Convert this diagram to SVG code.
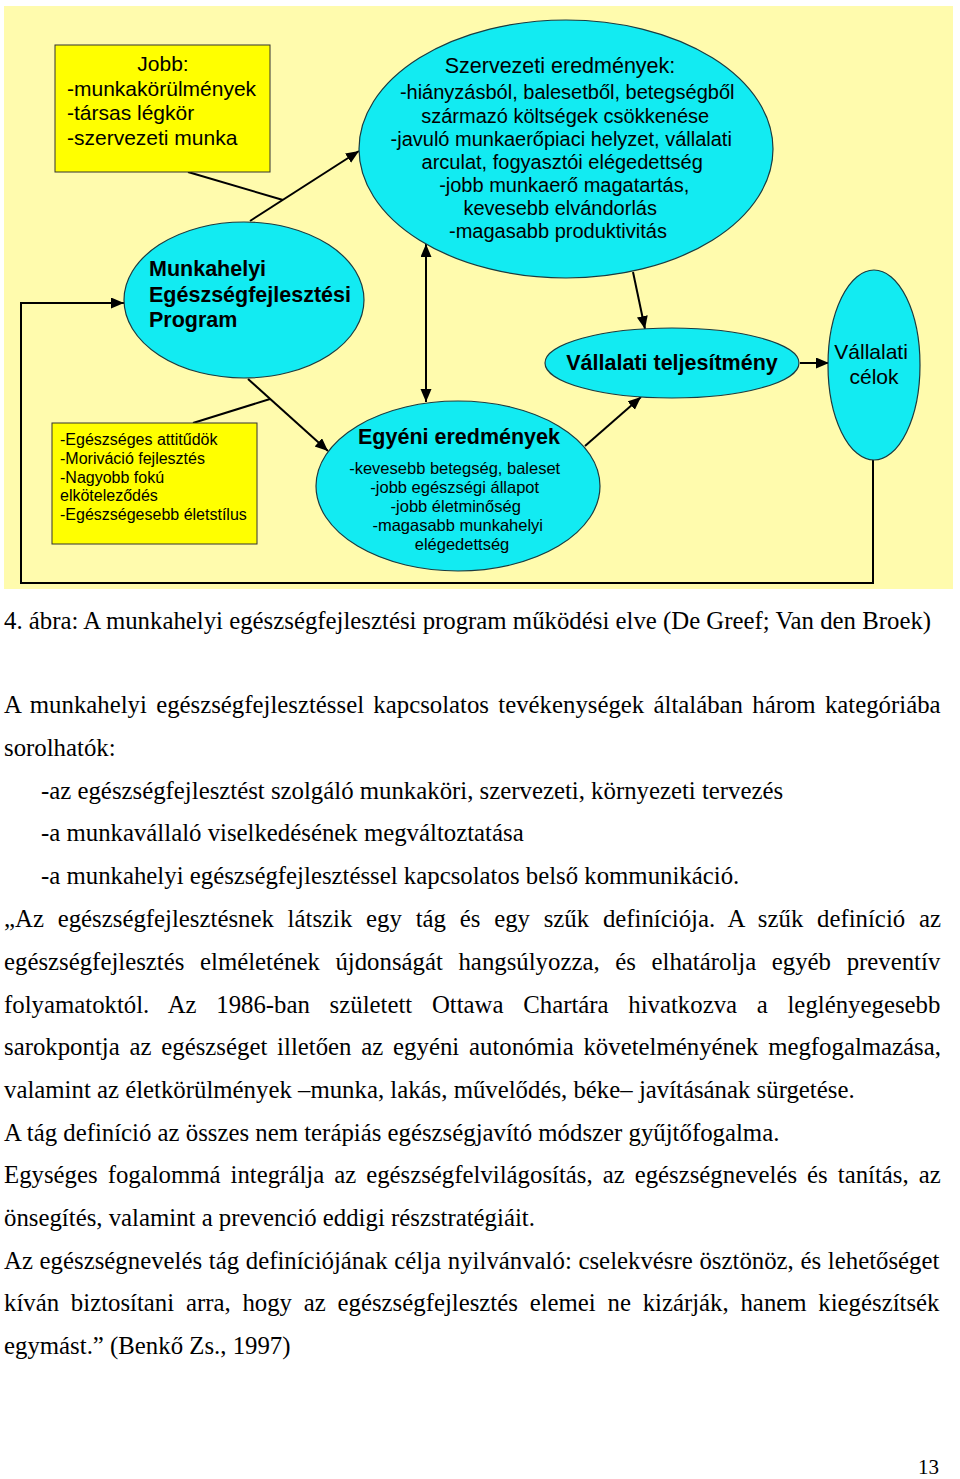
<svg xmlns="http://www.w3.org/2000/svg" width="960" height="1479" viewBox="0 0 960 1479">
<defs>
<style>
.bg{fill:#fffbad}
.ell{fill:#12ebf2;stroke:#1b3b40;stroke-width:1.2}
.box{fill:#ffff00;stroke:#333;stroke-width:1}
.ln{fill:none;stroke:#000;stroke-width:2}
.s{font-family:"Liberation Sans",Arial,sans-serif;fill:#000}
.b{font-family:"Liberation Sans",Arial,sans-serif;font-weight:bold;fill:#000}
.t{font-family:"Liberation Serif","Times New Roman",serif;font-size:24.8px;fill:#000}
.c{text-anchor:middle}
</style>
<marker id="ah" markerUnits="userSpaceOnUse" markerWidth="14" markerHeight="12" refX="13" refY="5.5" orient="auto-start-reverse" viewBox="0 0 14 12">
<path d="M0,0 L13,5.5 L0,11 z" fill="#000"/>
</marker>
</defs>
<rect class="bg" x="4" y="6" width="949" height="583"/>

<g id="connectors">
<line class="ln" x1="188" y1="172" x2="283" y2="200"/>
<line class="ln" x1="250" y1="221" x2="359" y2="151" marker-end="url(#ah)"/>
<line class="ln" x1="193" y1="423" x2="270" y2="399"/>
<line class="ln" x1="248" y1="379" x2="328" y2="451" marker-end="url(#ah)"/>
<line class="ln" x1="426" y1="244" x2="426" y2="402" marker-start="url(#ah)" marker-end="url(#ah)"/>
<line class="ln" x1="633" y1="272" x2="645" y2="329" marker-end="url(#ah)"/>
<line class="ln" x1="585" y1="446" x2="641" y2="397" marker-end="url(#ah)"/>
<line class="ln" x1="800" y1="363" x2="829" y2="363" marker-end="url(#ah)"/>
<polyline class="ln" points="873,460 873,583 21,583 21,303 124,303" marker-end="url(#ah)"/>
</g>

<g id="jobb">
<rect class="box" x="55" y="45" width="215" height="127"/>
<text class="s c" x="163" y="71" font-size="21">Jobb:</text>
<text class="s" x="67" y="96" font-size="21">-munkakörülmények</text>
<text class="s" x="67" y="120" font-size="21">-társas légkör</text>
<text class="s" x="67" y="145" font-size="21">-szervezeti munka</text>
</g>

<g id="szervezeti">
<ellipse class="ell" cx="566" cy="149" rx="207" ry="129"/>
<text class="s c" x="560" y="73" font-size="21.5">Szervezeti eredmények:</text>
<text class="s c" font-size="20">
<tspan x="570" y="99">-hiányzásból, balesetből, betegségből</tspan>
<tspan x="568" y="123">származó költségek csökkenése</tspan>
<tspan x="564" y="146">-javuló munkaerőpiaci helyzet, vállalati</tspan>
<tspan x="565" y="169">arculat, fogyasztói elégedettség</tspan>
<tspan x="567" y="192">-jobb munkaerő magatartás,</tspan>
<tspan x="563" y="215">kevesebb elvándorlás</tspan>
<tspan x="558" y="238">-magasabb produktivitás</tspan>
</text>
</g>

<g id="munkahelyi">
<ellipse class="ell" cx="244" cy="300" rx="120" ry="78"/>
<text class="b" font-size="21.5">
<tspan x="149" y="276">Munkahelyi</tspan>
<tspan x="149" y="302">Egészségfejlesztési</tspan>
<tspan x="149" y="327">Program</tspan>
</text>
</g>

<g id="attitudok">
<rect class="box" x="52" y="423" width="205" height="121"/>
<text class="s" font-size="16">
<tspan x="60" y="445">-Egészséges attitűdök</tspan>
<tspan x="60" y="464">-Moriváció fejlesztés</tspan>
<tspan x="60" y="483">-Nagyobb fokú</tspan>
<tspan x="60" y="501">elköteleződés</tspan>
<tspan x="60" y="520">-Egészségesebb életstílus</tspan>
</text>
</g>

<g id="egyeni">
<ellipse class="ell" cx="458" cy="486" rx="142" ry="85"/>
<text class="b c" x="459" y="444" font-size="21.5">Egyéni eredmények</text>
<text class="s c" font-size="16.5" fill="#1a1a1a">
<tspan x="457" y="474">-kevesebb betegség, baleset</tspan>
<tspan x="457" y="493">-jobb egészségi állapot</tspan>
<tspan x="458" y="512">-jobb életminőség</tspan>
<tspan x="460" y="531">-magasabb munkahelyi</tspan>
<tspan x="462" y="550">elégedettség</tspan>
</text>
</g>

<g id="teljesitmeny">
<ellipse class="ell" cx="672" cy="363" rx="127" ry="35"/>
<text class="b c" x="672" y="370" font-size="21.5">Vállalati teljesítmény</text>
</g>

<g id="celok">
<ellipse class="ell" cx="874" cy="365" rx="46" ry="95"/>
<text class="s c" font-size="21">
<tspan x="874" y="359">Vállalati</tspan>
<tspan x="874" y="384">célok</tspan>
</text>
</g>

<g id="text">
<text class="t" x="4" y="629">4. ábra: A munkahelyi egészségfejlesztési program működési elve (De Greef; Van den Broek)</text>
<text class="t" x="4" y="713" word-spacing="3.07">A munkahelyi egészségfejlesztéssel kapcsolatos tevékenységek általában három kategóriába</text>
<text class="t" x="4" y="756">sorolhatók:</text>
<text class="t" x="41" y="799">-az egészségfejlesztést szolgáló munkaköri, szervezeti, környezeti tervezés</text>
<text class="t" x="41" y="841">-a munkavállaló viselkedésének megváltoztatása</text>
<text class="t" x="41" y="884">-a munkahelyi egészségfejlesztéssel kapcsolatos belső kommunikáció.</text>
<text class="t" x="4" y="927" word-spacing="7.56">„Az egészségfejlesztésnek látszik egy tág és egy szűk definíciója. A szűk definíció az</text>
<text class="t" x="4" y="970" word-spacing="9.43">egészségfejlesztés elméletének újdonságát hangsúlyozza, és elhatárolja egyéb preventív</text>
<text class="t" x="4" y="1013" word-spacing="13.5">folyamatoktól. Az 1986-ban született Ottawa Chartára hivatkozva a leglényegesebb</text>
<text class="t" x="4" y="1055" word-spacing="3.6">sarokpontja az egészséget illetően az egyéni autonómia követelményének megfogalmazása,</text>
<text class="t" x="4" y="1098">valamint az életkörülmények –munka, lakás, művelődés, béke– javításának sürgetése.</text>
<text class="t" x="4" y="1141">A tág definíció az összes nem terápiás egészségjavító módszer gyűjtőfogalma.</text>
<text class="t" x="4" y="1183" word-spacing="3.78">Egységes fogalommá integrálja az egészségfelvilágosítás, az egészségnevelés és tanítás, az</text>
<text class="t" x="4" y="1226">önsegítés, valamint a prevenció eddigi részstratégiáit.</text>
<text class="t" x="4" y="1269" word-spacing="0.5">Az egészségnevelés tág definíciójának célja nyilvánvaló: cselekvésre ösztönöz, és lehetőséget</text>
<text class="t" x="4" y="1311" word-spacing="5.56">kíván biztosítani arra, hogy az egészségfejlesztés elemei ne kizárják, hanem kiegészítsék</text>
<text class="t" x="4" y="1354">egymást.” (Benkő Zs., 1997)</text>
<text class="t" x="939" y="1474" text-anchor="end" style="font-size:21px">13</text>
</g>
</svg>
